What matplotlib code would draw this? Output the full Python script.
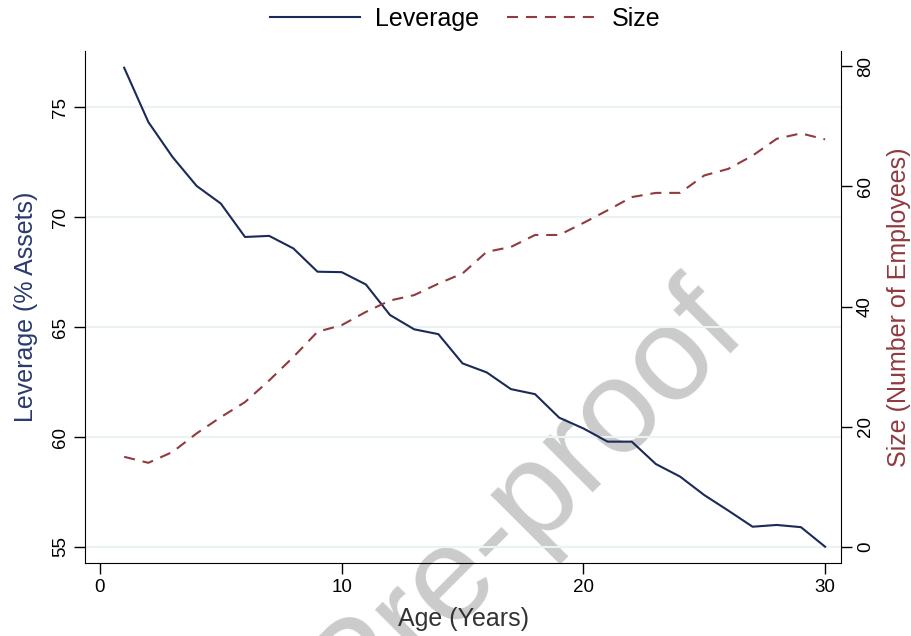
import matplotlib
matplotlib.use('Agg')
import matplotlib.pyplot as plt
from matplotlib.lines import Line2D

plt.rcParams['font.family'] = ['Liberation Sans', 'DejaVu Sans']

# datos
age = list(range(1, 31))
leverage = [76.8, 74.33, 72.74, 71.42, 70.62, 69.10, 69.15, 68.58, 67.52, 67.50,
            66.94, 65.55, 64.90, 64.68, 63.35, 62.94, 62.18, 61.95, 60.88, 60.39,
            59.79, 59.79, 58.77, 58.20, 57.36, 56.65, 55.92, 56.00, 55.90, 55.01]
size = [15.0, 14.0, 15.8, 18.9, 21.6, 24.1, 27.7, 31.6, 35.8, 36.9,
        39.1, 41.0, 41.9, 43.8, 45.5, 49.1, 49.9, 51.9, 51.9, 53.9,
        56.0, 58.2, 58.9, 58.9, 61.8, 62.9, 65.1, 67.9, 68.8, 67.8]
x_ticks = [0, 10, 20, 30]
lev_ticks = [55, 60, 65, 70, 75]
size_ticks = [0, 20, 40, 60, 80]

navy = '#1b2a57'
maroon = '#913a40'
grid_col = '#eaf2f3'

fig = plt.figure(figsize=(9.12, 6.36), dpi=100)
ax = fig.add_axes([0.0932, 0.1148, 0.829, 0.805])
ax2 = ax.twinx()

# marca de agua (coordenadas en pixeles desde abajo)
ax.text(750, 300, 'Journal Pre-proof', transform=None, fontsize=96,
        color='#cbcbcb', rotation=45, rotation_mode='anchor',
        ha='right', va='baseline', zorder=0.5, clip_on=False)

ax.plot(age, leverage, color=navy, lw=1.5, zorder=3)
ax2.plot(age, size, color=maroon, lw=1.5, dashes=(5.3, 3.8), zorder=3)

ax.set_xlim(-0.62, 30.66)
ax.set_ylim(54.27, 77.56)
ax2.set_ylim(-2.66, 82.5)

ax.set_xticks(x_ticks)
ax.set_yticks(lev_ticks)
ax2.set_yticks(size_ticks)
for a in (ax, ax2):
    a.spines['top'].set_visible(False)
    a.tick_params(labelsize=13.5, length=8, width=1, direction='out', colors='black')
ax.tick_params(axis='y', labelrotation=90)
ax2.tick_params(axis='y', labelrotation=90)
for lab in ax.get_yticklabels() + ax2.get_yticklabels():
    lab.set_va('center')
ax.spines['right'].set_visible(False)
ax2.spines['left'].set_visible(False)
ax2.spines['bottom'].set_visible(False)

ax.grid(axis='y', color=grid_col, lw=1.5, zorder=0)
ax.set_axisbelow(True)

ax.set_xlabel('Age (Years)', fontsize=18, color='#333333', labelpad=8)
ax.set_ylabel('Leverage (% Assets)', fontsize=18, color='#2a3a6e', labelpad=10)
ax2.set_ylabel('Size (Number of Employees)', fontsize=18, color=maroon,
               rotation=90, labelpad=9)

handles = [Line2D([], [], color=navy, lw=1.5),
           Line2D([], [], color=maroon, lw=1.5, dashes=(5.3, 3.8))]
fig.legend(handles, ['Leverage', 'Size'], loc='center', bbox_to_anchor=(0.51, 0.97),
           ncol=2, frameon=False, fontsize=18, handlelength=3.6,
           columnspacing=1.1, handletextpad=0.6)

fig.savefig('out.png', dpi=100)
